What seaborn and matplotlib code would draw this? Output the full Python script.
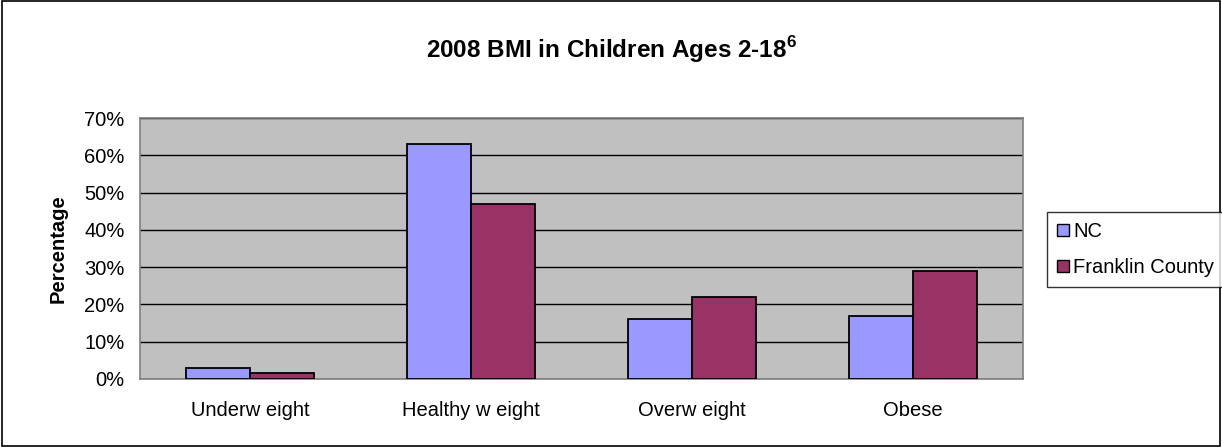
import matplotlib
matplotlib.use("Agg")
import matplotlib.pyplot as plt
import seaborn as sns
import pandas as pd
from matplotlib.patches import Patch, Rectangle
from matplotlib.ticker import FuncFormatter, MultipleLocator, FixedLocator

categories = ["Underw eight", "Healthy w eight", "Overw eight", "Obese"]
series_names = ["NC", "Franklin County"]
nc_values = [3, 63, 16, 17]
franklin_values = [1.5, 47, 22, 29]
colors = ["#9999FF", "#993366"]

df = pd.DataFrame({
    "category": categories * 2,
    "series": [series_names[0]] * 4 + [series_names[1]] * 4,
    "value": nc_values + franklin_values,
})

sns.set_style("white")
plt.rcParams["font.family"] = ["Liberation Sans", "DejaVu Sans"]
plt.rcParams["mathtext.fontset"] = "custom"
plt.rcParams["mathtext.rm"] = "Liberation Sans"
plt.rcParams["mathtext.bf"] = "Liberation Sans:bold"
plt.rcParams["text.color"] = "black"
plt.rcParams["axes.labelcolor"] = "black"
plt.rcParams["xtick.color"] = "black"
plt.rcParams["ytick.color"] = "black"

FS = 14.5

fig = plt.figure(figsize=(12.22, 4.47), dpi=100)
ax = fig.add_axes([140 / 1222, 1 - 379 / 447, 883 / 1222, 261 / 447])
ax.set_facecolor("#C0C0C0")

sns.barplot(data=df, x="category", y="value", hue="series",
            palette=colors, saturation=1, width=0.58, edgecolor="black",
            linewidth=1.3, ax=ax, legend=False, zorder=3)

ax.set_ylim(0, 70)
ax.set_xlim(-0.5, 3.5)
ax.yaxis.set_major_locator(MultipleLocator(10))
ax.yaxis.set_major_formatter(FuncFormatter(lambda v, p: f"{int(round(v))}%"))
ax.grid(axis="y", color="#000000", linewidth=1, zorder=1)
ax.set_axisbelow(True)

for s in ax.spines.values():
    s.set_color("#808080")
    s.set_linewidth(1.2)

ax.tick_params(axis="y", which="major", direction="out", length=6, width=1,
               color="#808080", labelcolor="black", labelsize=FS, pad=5)
ax.xaxis.set_major_locator(FixedLocator([0, 1, 2, 3]))
ax.set_xticklabels(categories)
ax.tick_params(axis="x", which="major", length=0, labelsize=FS, pad=16,
               labelcolor="black")
ax.xaxis.set_minor_locator(FixedLocator([0.5, 1.5, 2.5]))
ax.tick_params(axis="x", which="minor", direction="out", length=6, width=1,
               color="#808080")

ax.set_xlabel("")
ax.set_ylabel("Percentage", fontsize=FS, fontweight="bold", labelpad=12,
              color="black")

fig.text(0.5, 1 - 50 / 447, r"2008 BMI in Children Ages 2-18$^{\mathbf{6}}$",
         ha="center", va="center", fontsize=17.5, fontweight="bold",
         color="black")

handles = [Patch(facecolor=c, edgecolor="black", linewidth=1) for c in colors]
leg = fig.legend(handles, series_names, loc="upper left",
                 bbox_to_anchor=(1047 / 1222, 1 - 212 / 447),
                 fontsize=FS, frameon=True, fancybox=False,
                 handlelength=0.6, handleheight=0.6, handletextpad=0.2,
                 borderpad=0.5, labelspacing=0.85, borderaxespad=0)
leg.get_frame().set_edgecolor("#000000")
leg.get_frame().set_linewidth(1)
for t in leg.get_texts():
    t.set_color("black")

fig.patches.append(Rectangle((0.0015, 0.002), 0.997, 0.996, transform=fig.transFigure,
                             fill=False, edgecolor="black", linewidth=1.2))

fig.savefig("out.png", dpi=100)
